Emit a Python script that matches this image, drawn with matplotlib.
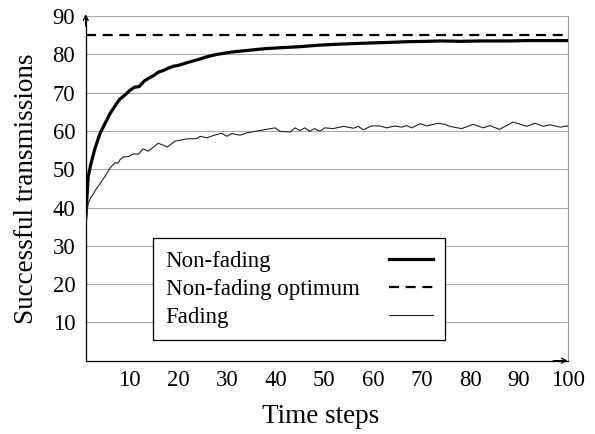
import numpy as np
import matplotlib
matplotlib.use("Agg")
import matplotlib.pyplot as plt

# ---------------------------------------------------------------
# values
# ---------------------------------------------------------------
t_nf = [1, 1.5, 2, 2.6, 3, 4, 5, 6, 7, 8, 9, 10, 11, 12, 13, 14, 15, 16, 17,
        18, 19, 20, 22, 24, 26, 28, 31, 34, 38, 42, 45, 49, 52, 56, 60, 63,
        67, 71, 74, 78, 82, 85, 88, 92, 96, 100]
nonfading = [37.0, 47.9, 51.0, 54.0, 55.8, 59.5, 62.0, 64.5, 66.5, 68.3, 69.3,
             70.5, 71.4, 71.6, 73.0, 73.8, 74.5, 75.4, 75.8, 76.4, 76.9, 77.1,
             77.9, 78.6, 79.4, 80.0, 80.6, 81.0, 81.5, 81.8, 82.0, 82.4, 82.6,
             82.8, 83.0, 83.1, 83.3, 83.4, 83.5, 83.4, 83.5, 83.5, 83.5, 83.6,
             83.6, 83.6]

optimum = 85.0

t_f = [1, 1.5, 2, 2.6, 3, 4, 5, 6, 7, 7.7, 8, 8.7, 9.8, 10.8, 11.8, 12.8, 13.9,
       15.9, 17.8, 19.3, 21.7, 23.8, 24.5, 25.9, 27.2, 28.9, 30, 31, 32.7,
       34.1, 36.8, 39.9, 40.9, 43, 44, 45, 46, 47, 48, 49.1, 50.1, 51.8, 54,
       56, 57, 58, 59.7, 61.4, 62.8, 64.5, 65.9, 66.9, 68, 69.7, 71, 73.4,
       74.8, 75.8, 78.2, 80.6, 82.7, 84, 86, 88.8, 91.6, 93.3, 95, 96.4,
       98.5, 100]
fading = [35.0, 41.0, 42.5, 43.6, 44.5, 46.3, 48.2, 50.3, 51.7, 51.6, 52.4,
          53.2, 53.3, 54.0, 53.9, 55.3, 54.7, 56.8, 55.8, 57.3, 57.9, 58.0,
          58.6, 58.2, 58.8, 59.4, 58.6, 59.3, 58.9, 59.5, 60.1, 60.8, 59.9,
          59.7, 60.8, 60.1, 60.8, 59.9, 60.6, 59.9, 60.8, 60.6, 61.2, 60.7,
          61.2, 60.3, 61.3, 61.3, 60.8, 61.3, 61.0, 61.4, 60.8, 61.9, 61.3,
          62.0, 61.7, 61.2, 60.6, 61.7, 60.8, 61.4, 60.4, 62.3, 61.2, 62.0,
          61.2, 61.6, 61.0, 61.3]

xticks = [10, 20, 30, 40, 50, 60, 70, 80, 90, 100]
yticks = [10, 20, 30, 40, 50, 60, 70, 80, 90]
# ---------------------------------------------------------------

plt.rcParams['font.family'] = ['Liberation Serif', 'DejaVu Serif']

fig = plt.figure(figsize=(5.95, 4.34), dpi=100)
ax = fig.add_axes([0.144, 0.169, 0.810, 0.794])

ax.plot(t_nf, nonfading, color='black', lw=2.3, label="Non-fading", zorder=3)
ax.axhline(optimum, color='black', lw=1.6, ls=(0, (4.5, 3.0)),
           label="Non-fading optimum", zorder=3)
ax.plot(t_f, fading, color='#222222', lw=0.8, label="Fading", zorder=3)

ax.set_xlim(1, 100)
ax.set_ylim(0, 90)
ax.set_xticks(xticks)
ax.set_yticks(yticks)
ax.tick_params(length=0, labelsize=16.3)
ax.tick_params(axis='x', pad=7)
ax.tick_params(axis='y', pad=7.5)

ax.grid(axis='y', color='#aaaaaa', lw=0.8)
ax.set_axisbelow(True)

for s in ['left', 'bottom']:
    ax.spines[s].set_linewidth(0.9)
    ax.spines[s].set_color('black')
ax.spines['top'].set_visible(False)
ax.spines['right'].set_color('#999999')
ax.spines['right'].set_linewidth(0.9)

# arrow heads on the axis lines
arr = dict(arrowstyle='->,head_length=0.35,head_width=0.18', lw=0.9,
           color='black', shrinkA=0, shrinkB=0)
ax.annotate('', xy=(1.0, 0), xytext=(0.97, 0), xycoords='axes fraction',
            arrowprops=arr, annotation_clip=False)
ax.annotate('', xy=(0, 1.005), xytext=(0, 0.97), xycoords='axes fraction',
            arrowprops=arr, annotation_clip=False)

ax.set_xlabel("Time steps", fontsize=19.5)
ax.set_ylabel("Successful transmissions", fontsize=19.5)
ax.xaxis.set_label_coords(0.488, -0.126)
ax.yaxis.set_label_coords(-0.097, 0.5)

leg = ax.legend(loc='upper left', bbox_to_anchor=(0.140, 0.355),
                borderaxespad=0, markerfirst=False, fontsize=16.5,
                frameon=True, fancybox=False, edgecolor='black',
                framealpha=1, borderpad=0.55, labelspacing=0.3,
                handlelength=1.93, handletextpad=1.0)
leg.get_frame().set_linewidth(0.9)

# text on the left, line sample on the right, as in the picture
for col in leg._legend_handle_box.get_children():
    for row in col.get_children():
        row.mode = "expand"
        row.width = 267

fig.savefig("out.png", dpi=100)
